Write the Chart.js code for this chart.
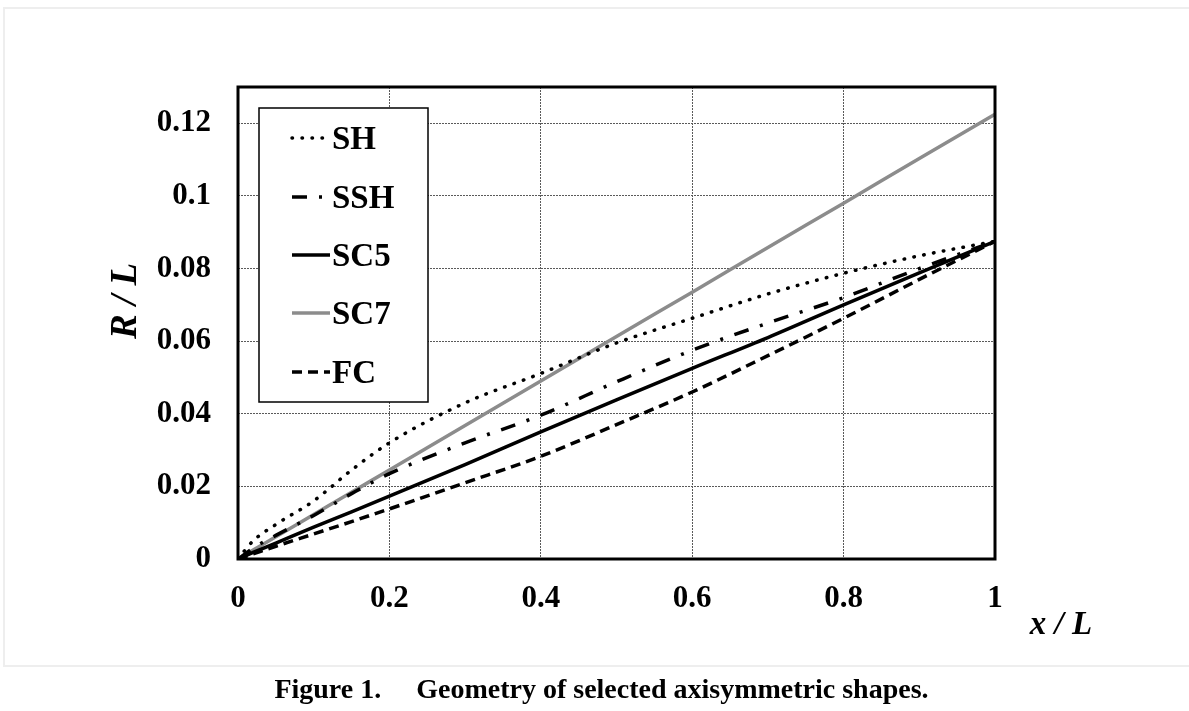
<!DOCTYPE html>
<html>
<head>
<meta charset="utf-8">
<script src="https://cdn.jsdelivr.net/npm/chart.js@4/dist/chart.umd.min.js"></script>
<style>
  body { margin: 0; background: #fff; }
  #page { position: relative; width: 1189px; height: 711px; overflow: hidden; }
  #frame { position: absolute; left: 3px; top: 7px; width: 1200px; height: 656px;
           border-left: 2px solid #eeeeee; border-top: 2px solid #eeeeee; border-bottom: 2px solid #eeeeee; }
  #chart { position: absolute; left: 0; top: 0; }
  #caption { position: absolute; top: 675px; left: 0; width: 1189px; padding-left: 14px; box-sizing: border-box;
             text-align: center; font: bold 28px/28px "Liberation Serif", serif; white-space: pre; color: #000; }
</style>
</head>
<body>
<div id="page">
  <div id="frame"></div>
  <canvas id="chart" width="1189" height="711"></canvas>
  <div id="caption">Figure 1.     Geometry of selected axisymmetric shapes.</div>
</div>
<script>
// x / L sample positions
var xPos = [0, 0.02, 0.05, 0.1, 0.15, 0.2, 0.3, 0.4, 0.5, 0.6, 0.7, 0.8, 0.9, 1.0];
// R / L for each shape
var shSeries  = [0, 0.0050, 0.0095, 0.0160, 0.0245, 0.0320, 0.0430, 0.0511, 0.0595, 0.0663, 0.0730, 0.0787, 0.0835, 0.0875];
var sshSeries = [0, 0.0030, 0.0065, 0.0120, 0.0180, 0.0235, 0.0320, 0.0396, 0.0488, 0.0575, 0.0650, 0.0720, 0.0800, 0.0875];
var sc5Series = [0, 0.0018, 0.0044, 0.0088, 0.0130, 0.0173, 0.0260, 0.0350, 0.0438, 0.0525, 0.0610, 0.0700, 0.0788, 0.0875];
var sc7Series = [0, 0.00245, 0.0061, 0.01225, 0.0184, 0.0245, 0.0368, 0.0490, 0.0613, 0.0735, 0.0858, 0.0980, 0.1103, 0.1225];
var fcSeries  = [0, 0.0014, 0.0035, 0.0069, 0.0103, 0.0138, 0.0210, 0.0283, 0.0370, 0.0460, 0.0560, 0.0663, 0.0770, 0.0875];

var seriesNames = ["SH", "SSH", "SC5", "SC7", "FC"];
var xTicks = [0, 0.2, 0.4, 0.6, 0.8, 1];
var yTicks = [0, 0.02, 0.04, 0.06, 0.08, 0.1, 0.12];

var serif = "'Liberation Serif', 'Times New Roman', serif";

function pts(ys) {
    return xPos.map(function(x, i) { return { x: x, y: ys[i] }; });
}
function fmt(v) {
    return String(+v.toFixed(2));
}

var styles = [
    { color: "#000", width: 3.5, dash: [0.5, 9.5], cap: "round" },
    { color: "#000", width: 3.5, dash: [15, 12, 3, 12], cap: "butt" },
    { color: "#000", width: 3.5, dash: [], cap: "butt" },
    { color: "#8c8c8c", width: 3.5, dash: [], cap: "butt" },
    { color: "#000", width: 3.5, dash: [10, 6], cap: "butt" }
];
var allSeries = [shSeries, sshSeries, sc5Series, sc7Series, fcSeries];

var datasets = allSeries.map(function(s, i) {
    return {
        label: seriesNames[i],
        data: pts(s),
        borderColor: styles[i].color,
        borderWidth: styles[i].width,
        borderDash: styles[i].dash,
        borderCapStyle: styles[i].cap,
        pointRadius: 0,
        fill: false,
        cubicInterpolationMode: "monotone"
    };
});

// frame, legend box and axis titles
var decorations = {
    id: "decorations",
    afterDraw: function(chart) {
        var ctx = chart.ctx;
        var a = chart.chartArea;
        ctx.save();
        ctx.strokeStyle = "#000";
        ctx.lineWidth = 3;
        ctx.setLineDash([]);
        ctx.strokeRect(a.left, a.top, a.right - a.left, a.bottom - a.top);

        // legend
        var lx = 259, ly = 108, lw = 169, lh = 294;
        ctx.fillStyle = "#fff";
        ctx.fillRect(lx, ly, lw, lh);
        ctx.lineWidth = 1.5;
        ctx.strokeRect(lx, ly, lw, lh);
        ctx.font = "bold 33px " + serif;
        ctx.textBaseline = "middle";
        ctx.textAlign = "left";
        var rows = [138, 197, 255, 313, 372];
        chart.data.datasets.forEach(function(ds, i) {
            var y = rows[i];
            ctx.beginPath();
            ctx.strokeStyle = ds.borderColor;
            ctx.lineWidth = ds.borderWidth;
            ctx.lineCap = ds.borderCapStyle;
            ctx.setLineDash(ds.borderDash);
            ctx.moveTo(292, y);
            ctx.lineTo(330, y);
            ctx.stroke();
            ctx.setLineDash([]);
            ctx.fillStyle = "#000";
            ctx.fillText(ds.label, 332, y + 2);
        });

        // axis titles
        ctx.fillStyle = "#000";
        ctx.textAlign = "center";
        ctx.font = "italic bold 33px " + serif;
        ctx.fillText("x / L", 1061, 625);
        ctx.font = "italic bold 37px " + serif;
        ctx.translate(126, 301);
        ctx.rotate(-Math.PI / 2);
        ctx.fillText("R / L", 0, 0);
        ctx.restore();
    }
};

new Chart(document.getElementById("chart"), {
    type: "line",
    data: { datasets: datasets },
    options: {
        responsive: false,
        animation: false,
        layout: { padding: { left: 0, top: 87, right: 194, bottom: 0 } },
        plugins: { legend: { display: false }, tooltip: { enabled: false } },
        scales: {
            x: {
                type: "linear", min: 0, max: 1,
                afterBuildTicks: function(scale) { scale.ticks = xTicks.map(function(v) { return { value: v }; }); },
                afterFit: function(scale) { scale.height = 152; },
                ticks: { color: "#000", font: { family: serif, size: 31, weight: "bold" }, padding: 21,
                         maxRotation: 0, callback: function(v) { return fmt(v); } },
                grid: { color: "#5a5a5a", lineWidth: 1, drawTicks: false },
                border: { display: false, dash: [2, 1] }
            },
            y: {
                type: "linear", min: 0, max: 0.13,
                afterBuildTicks: function(scale) { scale.ticks = yTicks.map(function(v) { return { value: v }; }); },
                afterFit: function(scale) { scale.width = 238; },
                ticks: { color: "#000", font: { family: serif, size: 31, weight: "bold" }, padding: 27,
                         callback: function(v) { return fmt(v); } },
                grid: { color: "#5a5a5a", lineWidth: 1, drawTicks: false },
                border: { display: false, dash: [2, 1] }
            }
        }
    },
    plugins: [decorations]
});
</script>
</body>
</html>
